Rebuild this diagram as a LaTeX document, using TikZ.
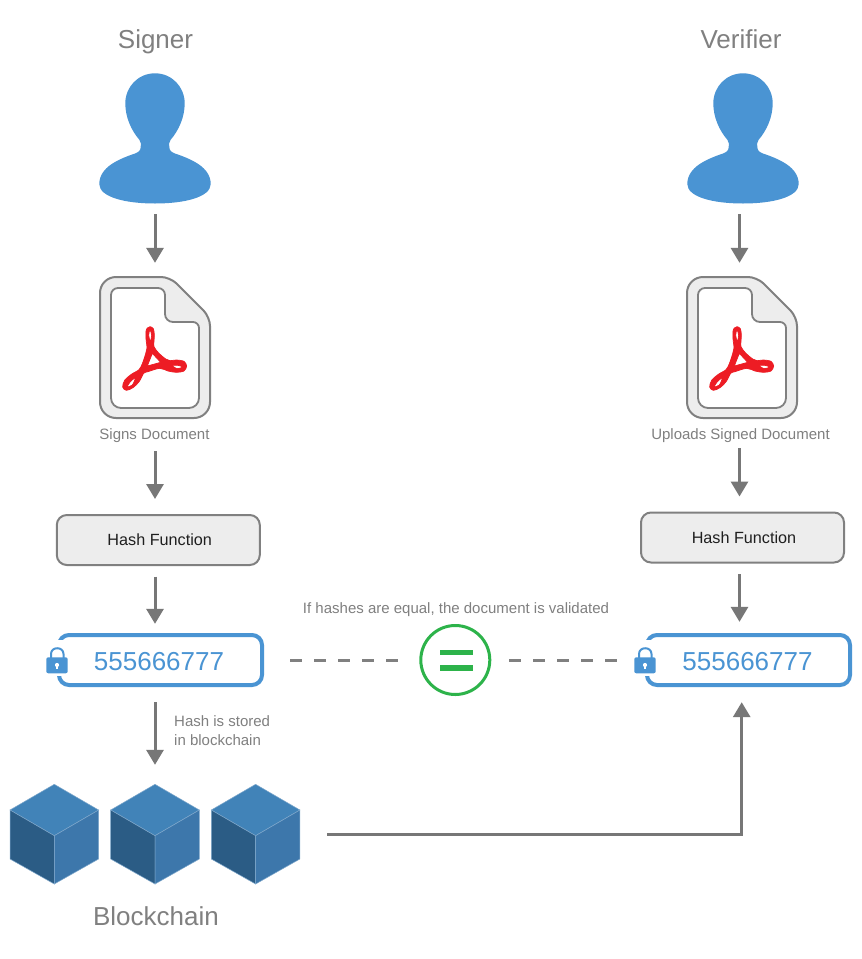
\documentclass[tikz,border=0pt]{standalone}
\usepackage{fontspec}
\setmainfont{Liberation Sans}
\usetikzlibrary{arrows.meta}
\definecolor{iconblue}{HTML}{4A94D3}
\definecolor{linegray}{HTML}{777777}
\definecolor{textgray}{HTML}{808080}
\definecolor{boxfill}{HTML}{EDEDED}
\definecolor{boxline}{HTML}{808080}
\definecolor{acrored}{HTML}{ED1C24}
\definecolor{okgreen}{HTML}{2DB34A}
\definecolor{cubetop}{HTML}{4183B8}
\definecolor{cubeleft}{HTML}{2B5C85}
\definecolor{cuberight}{HTML}{3D77AB}
\definecolor{cubeedge}{HTML}{7FA8CC}
\tikzset{
  personicon/.pic={
    \fill[iconblue] (0,13.3) .. controls (17,13.3) and (29.7,27) .. (29.7,43.3)
      .. controls (29.7,57) and (24,70) .. (15.5,80)
      .. controls (13.8,82) and (14,85) .. (14.3,87)
      .. controls (14.6,90.5) and (16,92) .. (20,93.5)
      .. controls (36,99) and (55.7,107) .. (55.7,124)
      .. controls (55.7,137) and (30,143.5) .. (0,143.5)
      .. controls (-30,143.5) and (-55.7,137) .. (-55.7,124)
      .. controls (-55.7,107) and (-36,99) .. (-20,93.5)
      .. controls (-16,92) and (-14.6,90.5) .. (-14.3,87)
      .. controls (-14,85) and (-13.8,82) .. (-15.5,80)
      .. controls (-24,70) and (-29.7,57) .. (-29.7,43.3)
      .. controls (-29.7,27) and (-17,13.3) .. (0,13.3) -- cycle;
  },
  docicon/.pic={
    \draw[line width=2pt,draw=boxline,fill=boxfill]
      [rounded corners=16pt] (15,53) -- (15,12)
      [rounded corners=9pt] -- (85,12) -- (125,52)
      [rounded corners=16pt] -- (125,153) -- (15,153) -- cycle;
    \draw[line width=1.8pt,draw=boxline,fill=white]
      [rounded corners=7pt] (26,60) -- (26,23) -- (80,23)
      [rounded corners=8pt] -- (80,57)
      [rounded corners=6pt] -- (114,57)
      [rounded corners=10pt] -- (114,143) -- (26,143) -- cycle;
    \begin{scope}[shift={(33,57)},x=0.3333pt,y=-0.3333pt]
      \filldraw[fill=acrored,draw=acrored,line width=.7pt,line join=round,even odd rule]
        plot[smooth cycle,tension=0.5] coordinates {
          (96,14) (106,20) (109,38) (108,58) (108,74) (121,92) (143,111) (156,116) (175,114) (198,118)
          (206,132) (198,147) (175,151) (150,147) (125,139) (90,149) (77,154) (64,178) (45,197) (25,205)
          (14,195) (20,175) (40,157) (63,143) (73,125) (83,95) (87,78) (84,50) (84,28) (88,18)}
        plot[smooth cycle,tension=0.5] coordinates {(96,24) (101,40) (97,57) (92,40)}
        (103,94) -- (128,121) -- (88,132) -- cycle
        plot[smooth cycle,tension=0.5] coordinates {(163,131) (180,130) (193,135) (178,140)}
        plot[smooth cycle,tension=0.5] coordinates {(52,168) (38,178) (28,194) (43,189)};
    \end{scope}
  },
  lockicon/.pic={
    \draw[iconblue,line width=2pt] (-6,-2) -- (-6,-6) .. controls (-6,-13.7) and (6.5,-13.7) .. (6.5,-6) -- (6.5,-2);
    \fill[iconblue,rounded corners=2pt] (-10.7,-2.7) rectangle (10.7,13.3);
    \fill[white] (0,5) circle (2.1);
    \fill[white] (-1,5) rectangle (1,9);
  },
  cubeicon/.pic={
    \filldraw[fill=cubetop,draw=cubeedge,line width=.5pt] (0,0) -- (44.3,25.7) -- (0,51.4) -- (-44.3,25.7) -- cycle;
    \filldraw[fill=cubeleft,draw=cubeedge,line width=.5pt] (-44.3,25.7) -- (0,51.4) -- (0,99.7) -- (-44.3,74.7) -- cycle;
    \filldraw[fill=cuberight,draw=cubeedge,line width=.5pt] (44.3,25.7) -- (0,51.4) -- (0,99.7) -- (44.3,74.7) -- cycle;
  },
  hashbox/.style={draw=boxline,fill=boxfill,line width=2pt,rounded corners=10pt,
    minimum width=203pt,minimum height=50pt,inner sep=0pt},
  hashtext/.style={inner sep=0pt,anchor=base,text=black!88,font=\fontsize{16.2}{19}\selectfont},
  numnode/.style={minimum width=206pt,minimum height=50pt,inner sep=0pt,text height=20pt,text depth=0pt,text=iconblue,font=\fontsize{26}{30}\selectfont},
  numframe/.style={draw=iconblue,line width=4pt,rounded corners=10pt,line cap=round},
  bigtext/.style={inner sep=0pt,anchor=base,text=textgray,font=\fontsize{26}{30}\selectfont},
  smalltext/.style={inner sep=0pt,anchor=base,text=textgray,font=\fontsize{15}{18}\selectfont},
  flow/.style={draw=linegray,line width=3pt,-{Triangle[length=15pt,width=17pt]}},
  dashlink/.style={draw=textgray,line width=3pt,dash pattern=on 12pt off 12pt},
}
\begin{document}
\begin{tikzpicture}[x=1pt,y=-1pt]
\useasboundingbox (0,0) rectangle (862,959);
\fill[white] (0,0) rectangle (862,959);

% axes of the vertical connectors
\coordinate (lx) at (155,400);
\coordinate (rx) at (739.5,400);
\coordinate (ux) at (741.7,400);

% titles
\node[bigtext] (tSigner) at (155.5,48) {Signer};
\node[bigtext] (tVerifier) at (741,48) {Verifier};
\node[bigtext] (tChain) at (156,925) {Blockchain};

% persons
\pic at (155,60) {personicon};
\pic at (743,60) {personicon};
\node[inner sep=0pt,minimum width=112pt,minimum height=130pt] (signer) at (155,138) {};
\node[inner sep=0pt,minimum width=112pt,minimum height=130pt] (verifier) at (743,138) {};

% documents
\pic at (85,265) {docicon};
\pic at (672,265) {docicon};
\node[inner sep=0pt,minimum width=110pt,minimum height=141pt] (docL) at (155,347.5) {};
\node[inner sep=0pt,minimum width=110pt,minimum height=141pt] (docR) at (742,347.5) {};
\node[smalltext] (lblL) at (154.5,439) {Signs Document};
\node[smalltext] (lblR) at (740.5,439) {Uploads Signed Document};

% hash boxes
\node[hashbox] (hashL) at (158.3,540) {};
\node[hashtext] at (159.7,545) {Hash Function};
\node[hashbox] (hashR) at (742.5,537.5) {};
\node[hashtext] at (744,543) {Hash Function};

% hash values
\draw[numframe] (59,676) [rounded corners=10pt] -- (59,685) -- (262,685) -- (262,635) -- (59,635) -- (59,644);
\draw[numframe] (647,676) [rounded corners=10pt] -- (647,685) -- (850,685) -- (850,635) -- (647,635) -- (647,644);
\fill[white] (44,640) rectangle (68,676);
\fill[white] (632,640) rectangle (656,676);
\pic at (57,660) {lockicon};
\pic at (645,660) {lockicon};
\node[numnode] (numL) at (159,660) {555666777};
\node[numnode] (numR) at (747.5,660) {555666777};

% comparison
\node[smalltext] (lblEq) at (456,613) {If hashes are equal, the document is validated};
\node[draw=okgreen,line width=3pt,circle,minimum size=69pt,inner sep=0pt] (eq) at (455.3,660) {};
\fill[okgreen] (440,649.8) rectangle (473,655.3);
\fill[okgreen] (440,665.3) rectangle (473,670.7);

% blockchain
\pic at (54.3,784.3) {cubeicon};
\pic at (155,784.3) {cubeicon};
\pic at (255.6,784.3) {cubeicon};
\node[inner sep=0pt,minimum width=88.6pt,minimum height=99.7pt] (cubeA) at (54.3,834.15) {};
\node[inner sep=0pt,minimum width=88.6pt,minimum height=99.7pt] (cubeB) at (155,834.15) {};
\node[inner sep=0pt,minimum width=88.6pt,minimum height=99.7pt] (cubeC) at (255.6,834.15) {};
\node[smalltext,anchor=base west] (lblStore) at (174,726) {Hash is stored};
\node[smalltext,anchor=base west] (lblStore2) at (174,745) {in blockchain};

% connectors, left column
\draw[flow,shorten <=11pt,shorten >=14pt] (lx |- signer.south) -- (lx |- docL.north);
\draw[flow,shorten <=9pt,shorten >=15pt] (lx |- lblL.south) -- (lx |- hashL.north);
\draw[flow,shorten <=10.5pt,shorten >=11pt] (lx |- hashL.south) -- (lx |- numL.north);
\draw[flow,shorten <=17pt,shorten >=19.3pt] (lx |- numL.south) -- (lx |- cubeB.north);

% connectors, right column
\draw[flow,shorten <=11pt,shorten >=14pt] (rx |- verifier.south) -- (rx |- docR.north);
\draw[flow,shorten <=6pt,shorten >=15pt] (rx |- lblR.south) -- (rx |- hashR.north);
\draw[flow,shorten <=10.5pt,shorten >=13pt] (rx |- hashR.south) -- (rx |- numR.north);
\draw[flow,shorten <=27.3pt,shorten >=17pt] (cubeC.east) -| (ux |- numR.south);

% dashed links
\draw[dashlink,shorten <=28pt,shorten >=21pt] (numL.east) -- (eq.west);
\draw[dashlink,shorten <=18pt,shorten >=26.5pt] (eq.east) -- (numR.west);
\end{tikzpicture}
\end{document}
